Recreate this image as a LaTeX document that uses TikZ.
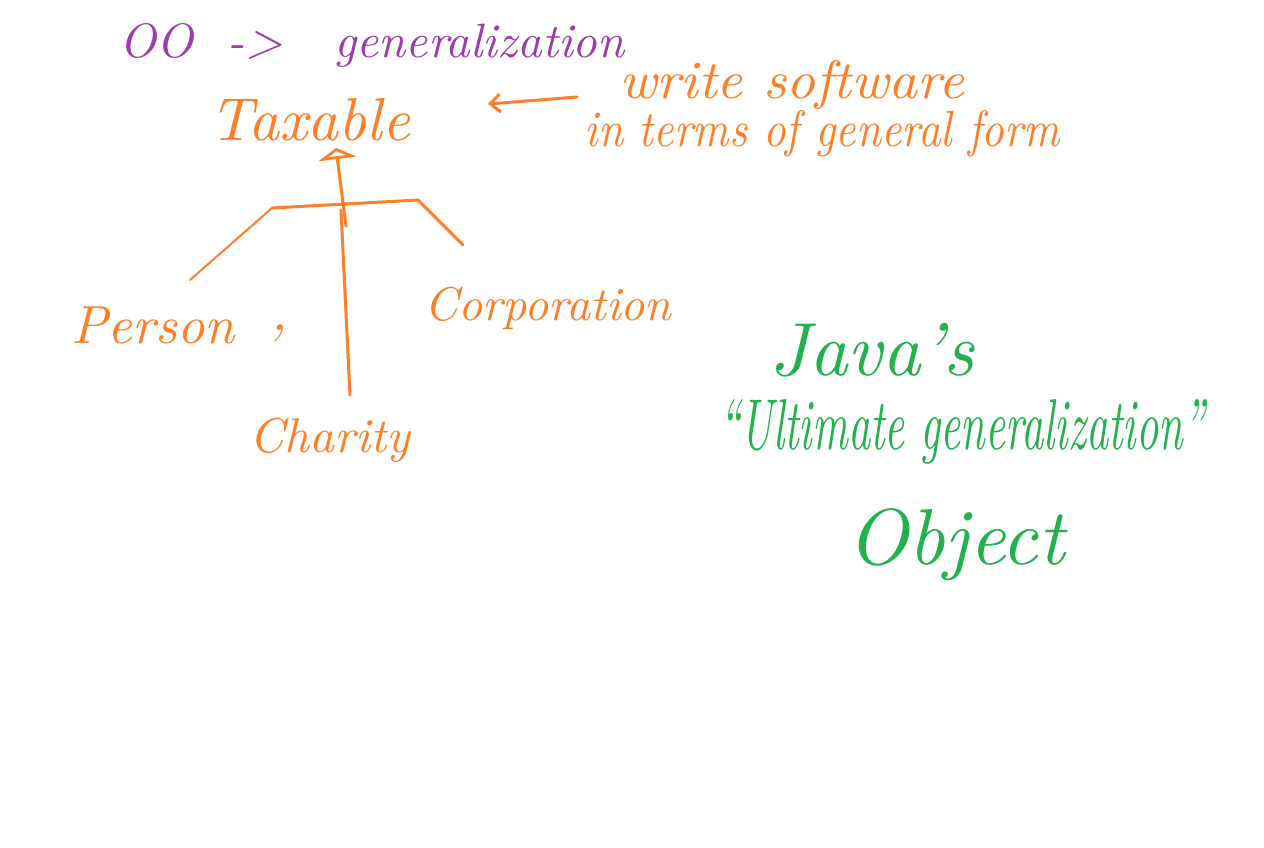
\documentclass[tikz,border=0pt]{standalone}
\usetikzlibrary{arrows.meta}
\definecolor{hor}{RGB}{255,127,39}
\definecolor{hpu}{RGB}{155,60,170}
\definecolor{hgr}{RGB}{34,177,76}
\newcommand{\fitw}[2]{\resizebox{#1}{!}{\itshape #2}}
\newcommand{\fitwh}[3]{\resizebox{#1}{#2}{\itshape #3}}
\begin{document}
\begin{tikzpicture}[x=1pt,y=-1pt,
  txt/.style={inner sep=0pt, anchor=center},
  ink/.style={draw=hor, line width=3pt, line cap=round, line join=round},
  thin/.style={draw=hor, line width=2pt, line cap=round}]
\useasboundingbox[fill=white] (0,0) rectangle (1264,847);
% texts
\node[txt, text=hpu] (oo) at (372,45) {\fitwh{505pt}{34pt}{OO \ -{}> \ \ generalization}};
\node[txt, text=hor] (tax) at (310,120) {\fitw{200pt}{Taxable}};
\node[txt, text=hor] (ws) at (792,85) {\fitwh{345pt}{38pt}{write software}};
\node[txt, text=hor] (it) at (822,134) {\fitwh{475pt}{36pt}{in terms of general form}};
\node[txt, text=hor] (per) at (153,325) {\fitw{163pt}{Person}};
\node[txt, text=hor] (comma) at (279,333) {\fontsize{60}{60}\selectfont\itshape ,};
\node[txt, text=hor] (corp) at (548,308) {\fitw{247pt}{Corporation}};
\node[txt, text=hor] (cha) at (330,440) {\fitw{160pt}{Charity}};
\node[txt, text=hgr] (java) at (872,350) {\fitw{205pt}{Java's}};
\node[txt, text=hgr] (ult) at (962,432) {\fitwh{485pt}{50pt}{``Ultimate generalization''}};
\node[txt, text=hgr] (obj) at (956,545) {\fitw{217pt}{Object}};
% coordinates
\coordinate (arT) at (577,97);
\coordinate (arH) at (488,104);
\coordinate (tri) at (336,148);
\coordinate (stem) at (346,226);
\coordinate (chtop) at (341,210);
\coordinate (chbot) at (350,395);
\coordinate (barL) at (272,208);
\coordinate (barR) at (418,200);
\coordinate (lend) at (190,280);
\coordinate (rend) at (463,245);
% connectors
\draw[ink, -{Straight Barb[length=10pt,width=18pt]}] (arT) -- (arH);
\draw[ink, -{Triangle[open,length=11pt,width=38pt]}] (stem) -- (tri);
\draw[ink] (chbot) -- (chtop);
\draw[ink] (barL) -- (barR) -- (rend);
\draw[thin] (barL) -- (lend);
\end{tikzpicture}
\end{document}
